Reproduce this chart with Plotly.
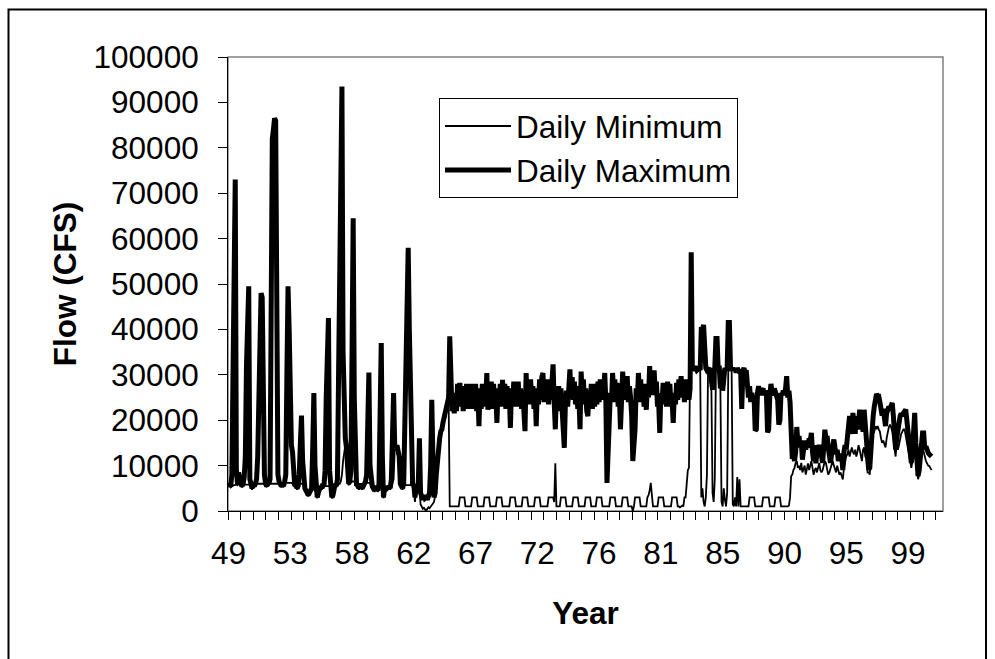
import plotly.graph_objects as go

# ---------------- data (monthly values, CFS) ----------------
tick_labels = ["49", "53", "58", "62", "67", "72", "76", "81", "85", "90", "95", "99"]

daily_max = [
    5500, 6000, 5500, 8000, 30000, 55000, 73000, 9000, 6000, 8500,          # 0
    6500, 6000, 5500, 6000, 7500, 12000, 32000, 44000, 49500, 7000,         # 10
    5500, 5000, 6000, 5500, 6000, 7000, 12000, 30000, 42000, 48000,         # 20
    47000, 24000, 8000, 6000, 5500, 6500, 6000, 7000, 72000, 82000,         # 30
    84000, 86500, 86000, 20000, 8000, 6500, 6000, 5500, 6000, 5500,         # 40
    6500, 8000, 30000, 49500, 40000, 16000, 14500, 13000, 6000, 5500,       # 50
    6000, 5000, 5500, 8000, 15000, 21000, 11000, 7000, 5000, 4500,          # 60
    4000, 3500, 4000, 4500, 5000, 14000, 26000, 10000, 4500, 3000,          # 70
    4000, 5000, 5500, 5000, 6000, 5500, 9000, 25000, 37000, 42500,          # 80
    9000, 5000, 3000, 3500, 4500, 6000, 5500, 7000, 30000, 60000,           # 90
    85000, 93500, 35000, 17500, 16000, 14000, 7000, 6000, 6500, 9000,       # 100
    35000, 64500, 25000, 7000, 5500, 6000, 5000, 5500, 6000, 5000,          # 110
    5500, 6000, 6500, 8000, 22000, 30500, 10000, 5500, 5500, 5000,          # 120
    4500, 5500, 5000, 4500, 6000, 25000, 37000, 12000, 3000, 5000,          # 130
    4500, 5500, 5000, 5500, 5000, 7000, 18000, 26000, 14500, 14000,         # 140
    14500, 13500, 12000, 6000, 5500, 5000, 6000, 20000, 35000, 50000,       # 150
    58000, 40000, 28000, 7000, 5500, 6000, 3000, 5000, 4500, 6000,          # 160
    16000, 4000, 3000, 2500, 3500, 2800, 3000, 2500, 3200, 4000,            # 170
    10000, 24500, 12000, 3000, 4000, 8000, 12000, 15000, 16000, 17500,      # 180
    18000, 19500, 20500, 21000, 22500, 24000, 25000, 38500, 25500, 22000,   # 190
    26000, 21500, 25000, 22000, 28000, 23000, 28200, 23500, 27000, 22000,   # 200
    27500, 23000, 28000, 22500, 27000, 23500, 28000, 22500, 27500, 23000,   # 210
    28000, 22000, 26500, 18700, 27000, 22500, 28000, 23000, 27500, 24000,   # 220
    30400, 22300, 27500, 23000, 28500, 22500, 28000, 23500, 26000, 19400,   # 230
    27000, 23500, 28000, 23000, 28900, 24000, 28000, 22500, 27500, 23000,   # 240
    26000, 18300, 27000, 23500, 28500, 23000, 28000, 24000, 28500, 23000,   # 250
    27000, 22500, 26500, 21000, 17600, 30400, 24000, 28500, 23500, 29000,   # 260
    24000, 27500, 22500, 26000, 18700, 27000, 23500, 29000, 24500, 29500,   # 270
    30400, 24000, 28500, 24500, 29000, 23500, 28000, 24500, 29500, 32300,   # 280
    24000, 18000, 26000, 22000, 27500, 22300, 27000, 23000, 19000, 13900,   # 290
    24000, 26500, 23000, 29500, 31200, 25000, 29500, 24500, 28500, 23500,   # 300
    27500, 22500, 25000, 18000, 30700, 25000, 29000, 23500, 27000, 22000,   # 310
    20900, 26500, 23000, 28000, 22500, 27500, 23000, 28000, 23500, 28500,   # 320
    24000, 29000, 24500, 29000, 25000, 30400, 24000, 6200, 15000, 18000,    # 330
    26000, 24000, 30400, 25500, 29000, 24000, 28200, 23000, 26000, 18000,   # 340
    25000, 30700, 25500, 29500, 24500, 29700, 24000, 27500, 25000, 21000,   # 350
    11000, 15000, 18000, 27000, 24000, 30400, 25500, 29000, 24000, 28000,   # 360
    23000, 27000, 22300, 28000, 25000, 31900, 26000, 30000, 25500, 31000,   # 370
    26000, 28500, 23000, 24000, 17200, 26000, 23500, 28200, 24000, 27500,   # 380
    23000, 28500, 24500, 28000, 23000, 24000, 19400, 26000, 23500, 28200,   # 390
    24500, 29000, 25000, 29700, 25500, 28000, 24000, 29000, 25500, 28000,   # 400
    24500, 27000, 57000, 31500, 31000, 31500, 31500, 31000, 31500, 31500,   # 410
    31000, 40500, 40000, 41000, 33000, 31500, 31000, 31500, 31500, 30500,   # 420
    27000, 26700, 31000, 31500, 38000, 38000, 31500, 31500, 27000, 31000,   # 430
    26500, 31500, 31500, 31000, 31500, 41500, 41500, 31500, 31000, 31500,   # 440
    31000, 31500, 30500, 31500, 31000, 30500, 31000, 22500, 31000, 31500,   # 450
    30500, 31000, 28000, 25000, 27500, 24000, 26000, 24500, 25000, 17700,   # 460
    18000, 26000, 27500, 25500, 27000, 26500, 27000, 25500, 26500, 25500,   # 470
    17300, 18000, 25500, 28000, 26000, 25500, 27000, 26000, 25000, 24500,   # 480
    19000, 20000, 26000, 25500, 26500, 25500, 27000, 29700, 25000, 26500,   # 490
    24000, 13000, 11500, 12500, 11000, 13000, 18500, 15000, 16500, 14000,   # 500
    15500, 11300, 14500, 15500, 13500, 15000, 14000, 16000, 15500, 17200,   # 510
    13000, 11000, 14500, 10500, 13000, 13500, 14500, 13500, 11500, 10600,   # 520
    14000, 17900, 16000, 16500, 14000, 11000, 10600, 12500, 15000, 15750,   # 530
    14000, 12500, 13500, 11000, 12000, 12500, 12080, 9000, 13000, 14500,    # 540
    13550, 16000, 18000, 20900, 19000, 17000, 21600, 19500, 17000, 20900,   # 550
    18000, 19500, 22300, 20500, 19400, 17500, 22300, 18500, 16000, 14280,   # 560
    9150, 9500, 15500, 18500, 20900, 23000, 25300, 25800, 25300, 25300,     # 570
    24000, 23000, 21000, 22500, 20900, 18700, 21500, 23000, 23000, 22500,   # 580
    23500, 23800, 21000, 17950, 13550, 16000, 17950, 19500, 20900, 21500,   # 590
    20900, 21600, 22350, 22350, 20000, 17950, 15000, 12000, 10600, 13000,   # 600
    16500, 21600, 15000, 10600, 7700, 9000, 12080, 14000, 17200, 17200,     # 610
    13550, 14280, 13000, 12800, 12500, 12000, 12000,                        # 620
]

daily_min = [
    5200, 5600, 5200, 5500, 5600, 5700, 5800, 5800, 5700, 6000,             # 0
    6200, 5700, 5200, 5700, 6000, 5800, 5800, 5800, 5800, 5800,             # 10
    5200, 4700, 5700, 5200, 5700, 6000, 6000, 6000, 6000, 6000,             # 20
    6000, 6000, 6000, 5700, 5200, 6200, 5700, 6000, 6000, 6000,             # 30
    6000, 6000, 6000, 6000, 6000, 6200, 5700, 5200, 5700, 5200,             # 40
    6200, 6200, 6200, 6200, 6200, 6200, 6200, 6000, 5700, 5200,             # 50
    5700, 4700, 5200, 6000, 6000, 6000, 6000, 6000, 4700, 4200,             # 60
    3700, 3200, 3700, 4200, 4700, 4700, 4700, 4500, 4200, 2800,             # 70
    3700, 4700, 5200, 4700, 5700, 5200, 5500, 5500, 5500, 5500,             # 80
    5500, 4700, 2800, 3200, 4200, 5700, 5200, 6000, 6000, 6000,             # 90
    6500, 8000, 11000, 13500, 14500, 13000, 6500, 5700, 6200, 6500,         # 100
    6500, 6500, 6500, 6500, 5200, 5700, 4700, 5200, 5700, 4700,             # 110
    5200, 5700, 6200, 6200, 6200, 6200, 6200, 5200, 5200, 4700,             # 120
    4200, 5200, 4700, 4200, 5500, 5500, 5500, 5500, 2800, 4700,             # 130
    4200, 5200, 4700, 5200, 4700, 5500, 6000, 7000, 13500, 13500,           # 140
    14000, 13000, 11500, 5700, 5200, 4700, 5700, 5700, 5700, 5700,          # 150
    5700, 5700, 5700, 6500, 5200, 5000, 2000, 4500, 4000, 5500,             # 160
    5000, 1500, 800, 500, 700, 300, 0, 500, 800, 600,                       # 170
    1000, 1200, 1500, 2000, 3500, 7000, 11000, 14000, 15500, 17000,         # 180
    17500, 19000, 20000, 20500, 22000, 23500, 24000, 1000, 1000, 1000,      # 190
    1000, 1000, 1000, 1000, 1000, 1000, 3000, 3000, 3000, 3000,             # 200
    3000, 1000, 1000, 1000, 1000, 1000, 1000, 3000, 3000, 3000,             # 210
    3000, 3000, 1000, 1000, 1000, 1000, 1000, 1000, 3000, 3000,             # 220
    3000, 3000, 3000, 1000, 1000, 1000, 1000, 1000, 1000, 3000,             # 230
    3000, 3000, 3000, 3000, 1000, 1000, 1000, 1000, 1000, 1000,             # 240
    1000, 3000, 3000, 3000, 3000, 3000, 1000, 1000, 1000, 1000,             # 250
    1000, 1000, 3000, 3000, 3000, 3000, 3000, 1000, 1000, 1000,             # 260
    1000, 1000, 1000, 3000, 3000, 3000, 3000, 3000, 1000, 1000,             # 270
    1000, 1000, 1000, 1000, 1000, 3000, 3000, 3000, 3000, 3000,             # 280
    2000, 10500, 1000, 1000, 1000, 1000, 3000, 3000, 3000, 3000,            # 290
    3000, 1000, 1000, 1000, 1000, 1000, 1000, 3000, 3000, 3000,             # 300
    3000, 3000, 1000, 1000, 1000, 1000, 1000, 1000, 3000, 3000,             # 310
    3000, 3000, 3000, 1000, 1000, 1000, 1000, 1000, 3000, 3000,             # 320
    3000, 3000, 3000, 1000, 1000, 1000, 1000, 1000, 1000, 1000,             # 330
    3000, 3000, 3000, 3000, 3000, 1000, 1000, 1000, 1000, 1000,             # 340
    1000, 3000, 3000, 3000, 3000, 3000, 1000, 1000, 1000, 1000,             # 350
    0, 1000, 3000, 3000, 3000, 3000, 3000, 1000, 1000, 1000,                # 360
    1000, 1000, 1000, 3000, 3500, 4500, 6200, 3500, 1000, 1000,             # 370
    1000, 1000, 1000, 3000, 3000, 3000, 3000, 3000, 1000, 1000,             # 380
    1000, 1000, 1000, 1000, 1000, 3000, 3000, 3000, 3000, 3000,             # 390
    1000, 1000, 800, 1000, 1200, 1000, 3000, 3000, 6000, 9000,              # 400
    9500, 31000, 31000, 31000, 31000, 31000, 31000, 31000, 31000, 31000,    # 410
    31000, 3000, 5000, 2000, 1000, 3000, 8000, 31000, 31000, 30500,         # 420
    26500, 4000, 2000, 7000, 31000, 31000, 31000, 31000, 26500, 2000,       # 430
    1000, 5000, 2500, 1000, 4000, 31000, 31000, 31000, 31000, 1500,         # 440
    1000, 3000, 1000, 7500, 1000, 7000, 1000, 1000, 1000, 1000,             # 450
    1000, 1000, 1000, 1000, 3000, 3000, 3000, 3000, 3000, 1000,             # 460
    1000, 1000, 1000, 1000, 1000, 1000, 3000, 3000, 3000, 3000,             # 470
    3000, 3000, 1000, 1000, 1000, 1000, 1000, 3000, 3000, 3000,             # 480
    3000, 3000, 1000, 1000, 1000, 1000, 1000, 1000, 1000, 1200,             # 490
    3000, 7700, 8000, 9000, 9500, 10600, 11000, 9500, 10000, 9000,          # 500
    10600, 8500, 9500, 10000, 8000, 9500, 10500, 9000, 10000, 11000,        # 510
    9500, 8000, 9000, 9500, 8500, 10000, 10600, 9000, 8500, 9000,           # 520
    10000, 11000, 10500, 9500, 8000, 8500, 9500, 10000, 11000, 10000,       # 530
    9000, 8500, 10000, 9000, 8000, 8500, 7500, 6950, 9500, 11000,           # 540
    12000, 12500, 13500, 12000, 13000, 14000, 13000, 12500, 13500, 12000,   # 550
    13000, 14500, 13500, 12500, 11000, 13500, 14000, 12000, 11500, 8500,    # 560
    8500, 8000, 14000, 15000, 17000, 17500, 18700, 18000, 18700, 18000,     # 570
    17500, 16000, 15000, 15500, 14500, 14000, 16000, 17500, 18500, 19000,   # 580
    18500, 17500, 16000, 13500, 12000, 15000, 13500, 14500, 16000, 17000,   # 590
    17500, 18000, 18000, 16500, 15000, 14000, 12000, 11000, 9500, 11000,    # 600
    13000, 15000, 12000, 9000, 7000, 8000, 10600, 12000, 14000, 13000,      # 610
    11500, 11000, 10500, 10000, 9900, 9500, 9000,                           # 620
]

months = list(range(len(daily_max)))

# ---------------- layout constants ----------------
FONT = "Liberation Sans, Arial, sans-serif"
FS = 31.5
W, H = 995, 659
ML, MR, MT, MB = 228, 52, 57, 148
PW, PH = W - ML - MR, H - MT - MB
LABEL_EVERY = 55          # months between year labels
TICK_EVERY = 11.254       # months between axis tick marks


def px_x(px):
    return (px - ML) / PW


def px_y(py):
    return (H - MB - py) / PH


fig = go.Figure()
fig.add_trace(go.Scatter(
    x=months, y=daily_min, mode="lines", name="Daily Minimum",
    line=dict(color="black", width=1.8), hoverinfo="skip",
))
fig.add_trace(go.Scatter(
    x=months, y=daily_max, mode="lines", name="Daily Maximum",
    line=dict(color="black", width=5), hoverinfo="skip",
))

fig.update_layout(
    width=W, height=H,
    margin=dict(l=ML, r=MR, t=MT, b=MB, autoexpand=False),
    paper_bgcolor="white", plot_bgcolor="white",
    font=dict(family=FONT, size=FS, color="black"),
    showlegend=True,
    legend=dict(
        x=px_x(439), y=px_y(98), xanchor="left", yanchor="top",
        bgcolor="white", bordercolor="black", borderwidth=1,
        font=dict(family=FONT, size=FS, color="black"),
        itemwidth=66, tracegroupgap=0,
        entrywidth=307, entrywidthmode="pixels",
    ),
    xaxis=dict(
        range=[-0.45, 636.2], showgrid=False, zeroline=False,
        showline=True, linecolor="black", linewidth=1,
        tickmode="array",
        tickvals=[LABEL_EVERY * k for k in range(len(tick_labels))],
        ticktext=tick_labels,
        ticks="outside", ticklen=0, tickcolor="black",
        ticklabelstandoff=14,
        tickfont=dict(family=FONT, size=FS, color="black"),
        minor=dict(ticks="outside", ticklen=8, tickcolor="black", tickwidth=1,
                   tickmode="linear", tick0=-0.45, dtick=TICK_EVERY, showgrid=False),
        title=dict(text="<b>Year</b>", standoff=32,
                   font=dict(family=FONT, size=FS, color="black")),
    ),
    yaxis=dict(
        range=[0, 100000], showgrid=False, zeroline=False,
        showline=True, linecolor="black", linewidth=1,
        tickmode="linear", tick0=0, dtick=10000, tickformat="d",
        ticks="outside", ticklen=9, tickcolor="black",
        ticklabelstandoff=13,
        tickfont=dict(family=FONT, size=FS, color="black"),
        title=dict(text="<b>Flow (CFS)</b>", standoff=7,
                   font=dict(family=FONT, size=FS, color="black")),
    ),
    shapes=[
        # grey plot-area border
        dict(type="rect", xref="paper", yref="paper", x0=0, x1=1, y0=0, y1=1,
             line=dict(color="#808080", width=1.5), layer="below"),
        # outer chart frame
        dict(type="rect", xref="paper", yref="paper",
             x0=px_x(8.5), x1=px_x(986), y0=px_y(670), y1=px_y(9.5),
             line=dict(color="black", width=2), layer="below"),
    ],
)

fig.write_html("out.html")
